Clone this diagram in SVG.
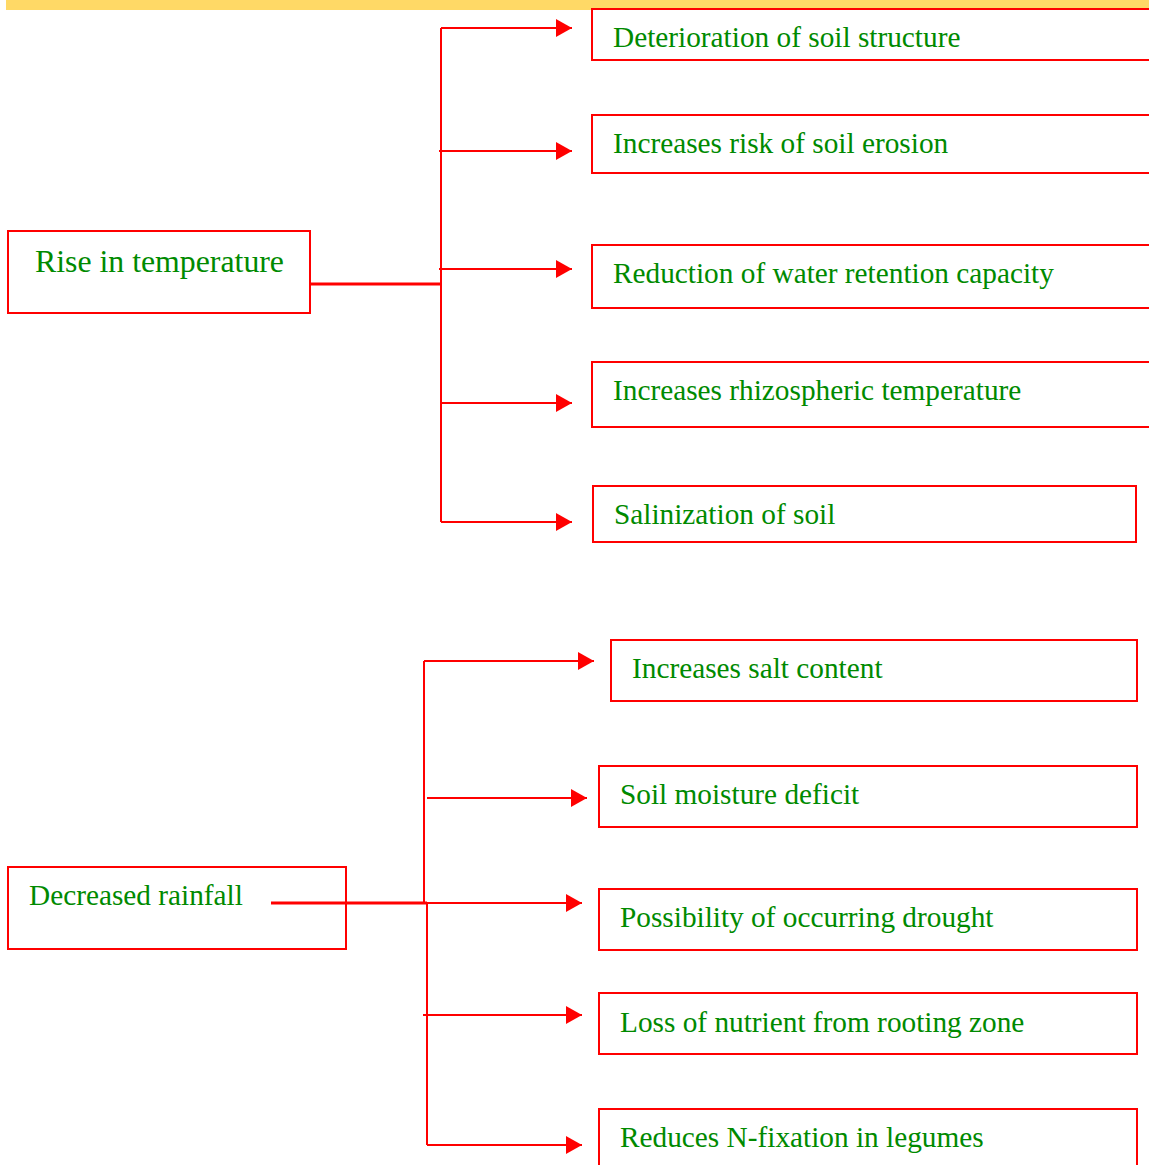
<svg xmlns="http://www.w3.org/2000/svg" width="1149" height="1165" viewBox="0 0 1149 1165">
<style>
.box{fill:#fff;stroke:#ff0000;stroke-width:2}
.t{font-family:"Liberation Serif","Times New Roman",serif;font-size:29.3px;fill:#008a00}
.c{fill:none;stroke:#ff0000;stroke-width:2}
</style>
<defs>
<marker id="ah" markerWidth="16" markerHeight="18" refX="16" refY="9" orient="auto" markerUnits="userSpaceOnUse">
<path d="M0,0 L16,9 L0,18 Z" fill="#ff0000"/>
</marker>
</defs>
<rect x="0" y="0" width="1149" height="1165" fill="#fff"/>
<rect x="6" y="0" width="1143" height="10" fill="#ffd966"/>
<g id="n-rise"><rect class="box" x="8" y="231" width="302" height="82"/><text class="t" x="35" y="272" style="font-size:31.8px">Rise in temperature</text></g>
<g id="n-t1"><rect class="box" x="592" y="9" width="570" height="51"/><text class="t" x="613" y="47">Deterioration of soil structure</text></g>
<g id="n-t2"><rect class="box" x="592" y="115" width="570" height="58"/><text class="t" x="613" y="153">Increases risk of soil erosion</text></g>
<g id="n-t3"><rect class="box" x="592" y="245" width="570" height="63"/><text class="t" x="613" y="283">Reduction of water retention capacity</text></g>
<g id="n-t4"><rect class="box" x="592" y="362" width="570" height="65"/><text class="t" x="613" y="400">Increases rhizospheric temperature</text></g>
<g id="n-t5"><rect class="box" x="593" y="486" width="543" height="56"/><text class="t" x="614" y="524">Salinization of soil</text></g>
<g id="n-rain"><rect class="box" x="8" y="867" width="338" height="82"/><text class="t" x="29" y="905">Decreased rainfall</text></g>
<g id="n-r1"><rect class="box" x="611" y="640" width="526" height="61"/><text class="t" x="632" y="678">Increases salt content</text></g>
<g id="n-r2"><rect class="box" x="599" y="766" width="538" height="61"/><text class="t" x="620" y="804">Soil moisture deficit</text></g>
<g id="n-r3"><rect class="box" x="599" y="889" width="538" height="61"/><text class="t" x="620" y="927">Possibility of occurring drought</text></g>
<g id="n-r4"><rect class="box" x="599" y="993" width="538" height="61"/><text class="t" x="620" y="1032">Loss of nutrient from rooting zone</text></g>
<g id="n-r5"><rect class="box" x="599" y="1109" width="538" height="70"/><text class="t" x="620" y="1147">Reduces N-fixation in legumes</text></g>
<g id="connectors">
<path class="c" d="M441,28 V522"/>
<path class="c" d="M310,284 H441" style="stroke-width:3"/>
<path class="c" d="M441,28 H572" marker-end="url(#ah)"/>
<path class="c" d="M439,151 H572" marker-end="url(#ah)"/>
<path class="c" d="M439,269 H572" marker-end="url(#ah)"/>
<path class="c" d="M441,403 H572" marker-end="url(#ah)"/>
<path class="c" d="M441,522 H572" marker-end="url(#ah)"/>
<path class="c" d="M424,661 V903"/>
<path class="c" d="M427,903 V1145"/>
<path class="c" d="M271,903 H427" style="stroke-width:3"/>
<path class="c" d="M424,661 H594" marker-end="url(#ah)"/>
<path class="c" d="M427,798 H587" marker-end="url(#ah)"/>
<path class="c" d="M427,903 H582" marker-end="url(#ah)"/>
<path class="c" d="M423,1015 H582" marker-end="url(#ah)"/>
<path class="c" d="M427,1145 H582" marker-end="url(#ah)"/>
</g>
</svg>
